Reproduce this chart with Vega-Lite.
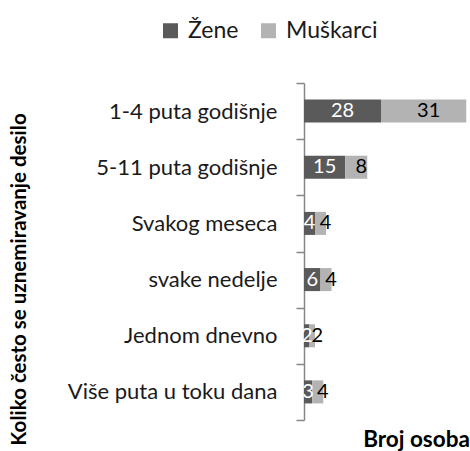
{
  "$schema": "https://vega.github.io/schema/vega-lite/v6.json",
  "width": 165,
  "height": 337,
  "autosize": "none",
  "padding": {"left": 304, "top": 83, "right": 1, "bottom": 31},
  "config": {"view": {"stroke": null}, "font": "Lato"},
  "data": {"values": [
    {"cat": "1-4 puta godišnje", "g": "Žene", "v": 28},
    {"cat": "1-4 puta godišnje", "g": "Muškarci", "v": 31},
    {"cat": "5-11 puta godišnje", "g": "Žene", "v": 15},
    {"cat": "5-11 puta godišnje", "g": "Muškarci", "v": 8},
    {"cat": "Svakog meseca", "g": "Žene", "v": 4},
    {"cat": "Svakog meseca", "g": "Muškarci", "v": 4},
    {"cat": "svake nedelje", "g": "Žene", "v": 6},
    {"cat": "svake nedelje", "g": "Muškarci", "v": 4},
    {"cat": "Jednom dnevno", "g": "Žene", "v": 2},
    {"cat": "Jednom dnevno", "g": "Muškarci", "v": 2},
    {"cat": "Više puta u toku dana", "g": "Žene", "v": 3},
    {"cat": "Više puta u toku dana", "g": "Muškarci", "v": 4}
  ]},
  "transform": [
    {"stack": "v", "groupby": ["cat"], "sort": [{"field": "g", "order": "descending"}], "as": ["s", "e"]},
    {"calculate": "(datum.s + datum.e) / 2", "as": "mid"}
  ],
  "encoding": {
    "y": {
      "field": "cat", "type": "nominal",
      "sort": ["1-4 puta godišnje", "5-11 puta godišnje", "Svakog meseca", "svake nedelje", "Jednom dnevno", "Više puta u toku dana"],
      "scale": {"paddingInner": 0, "paddingOuter": 0},
      "axis": {
        "domainColor": "#868686", "domainWidth": 1.5,
        "tickColor": "#868686", "tickWidth": 1.5, "tickSize": 8, "tickBand": "extent",
        "labelFontSize": 22, "labelColor": "#1a1a1a", "labelPadding": 19, "labelFont": "Lato", "labelLimit": 0,
        "title": "Koliko često se uznemiravanje desilo",
        "titleFontSize": 20.5, "titleFontWeight": "bold", "titleColor": "black",
        "titleAngle": -90, "titleX": -285, "titleY": 196, "titleAlign": "center", "titleBaseline": "middle"
      }
    }
  },
  "layer": [
    {
      "mark": {"type": "bar", "height": {"band": 0.41}},
      "encoding": {
        "x": {
          "field": "s", "type": "quantitative", "scale": {"domain": [0, 60], "nice": false},
          "axis": {
            "domain": false, "ticks": false, "labels": false, "grid": false,
            "title": "Broj osoba", "titleFontSize": 22.5, "titleFontWeight": "bold", "titleColor": "black",
            "titleX": 112, "titleY": 19, "titleAlign": "center", "titleBaseline": "middle"
          }
        },
        "x2": {"field": "e"},
        "color": {
          "field": "g", "type": "nominal",
          "scale": {"domain": ["Žene", "Muškarci"], "range": ["#5a5a5a", "#b3b3b3"]},
          "legend": {
            "orient": "none", "legendX": -145, "legendY": -64, "direction": "horizontal",
            "title": null, "symbolType": "square", "symbolSize": 225, "symbolStrokeWidth": 0,
            "labelFontSize": 23, "labelOffset": 6, "columnPadding": 18, "padding": 0, "labelColor": "#1a1a1a", "labelLimit": 0
          }
        }
      }
    },
    {
      "transform": [{"filter": "datum.g === 'Žene'"}],
      "mark": {"type": "text", "fontSize": 20, "color": "white"},
      "encoding": {
        "x": {"field": "mid", "type": "quantitative"},
        "text": {"field": "v", "type": "quantitative"}
      }
    },
    {
      "transform": [{"filter": "datum.g === 'Muškarci'"}],
      "mark": {"type": "text", "fontSize": 20, "color": "black", "dx": 5},
      "encoding": {
        "x": {"field": "mid", "type": "quantitative"},
        "text": {"field": "v", "type": "quantitative"}
      }
    }
  ]
}
